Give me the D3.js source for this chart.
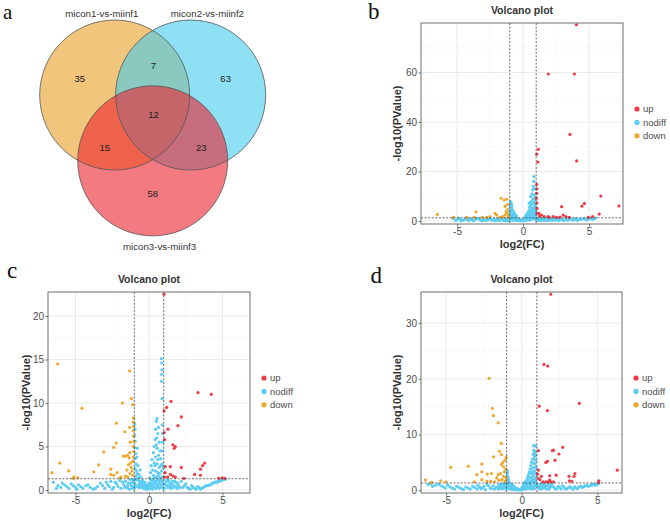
<!DOCTYPE html>
<html>
<head>
<meta charset="utf-8">
<script src="https://cdn.jsdelivr.net/npm/d3@7"></script>
<style>
    body { margin: 0; background: #fff; }
    text { font-family: "Liberation Sans", Arial, sans-serif; }
</style>
</head>
<body>
<script>
// ---------------------------------------------------------------------------
// Data
// ---------------------------------------------------------------------------

// Venn: set names and region counts
// order: A only, A&B, B only, A&B&C, A&C, B&C, C only
var vennSets = ["micon1-vs-miinf1", "micon2-vs-miinf2", "micon3-vs-miinf3"];
var vennCounts = [35, 7, 63, 12, 15, 23, 58];

var groups = ["up", "nodiff", "down"];

// panel b points [log2FC, -log10 P]
var bUp = [[4.05,79.3],[1.92,59.4],[3.9,59.4],[3.56,35],[1.16,29],[1.04,27],
    [1.13,23.8],[4.07,24.3],[1.04,14.8],[1.05,13],[1.04,11.2],[1.02,9.2],
    [1.05,7.3],[1.06,5.1],[1.06,3.1],[5.9,10.1],[7.27,6.1],[4.65,7.1],
    [4.47,6.0],[2.93,5.8],[5.78,2.8],[5.27,1.8],[4.95,1.5],[3.05,2.4],
    [3.25,1.8],[2.3,1.8],[2.55,1.5],[1.9,1.8],[1.4,2.4],[1.2,3.1],[1.6,1.8],
    [1.25,2.0],[2.0,1.5],[3.5,1.5],[2.8,1.6]];
var bDown = [[-6.49,2.7],[-5.28,1.5],[-3.56,3.7],[-3.69,1.5],[-2.12,3.1],
    [-2.0,2.4],[-1.67,9.2],[-1.44,8.5],[-1.24,8.8],[-1.18,6.6],[-1.36,5.9],
    [-1.18,3.1],[-1.36,2.4],[-1.54,1.8],[-1.75,1.5],[-2.75,1.5],[-2.5,1.8],
    [-3.1,1.5],[-4.27,1.5],[-1.18,4.6],[-1.28,3.7],[-1.1,2.0],[-1.12,1.5]];
var bNodiff = [[-5.3,1.0],[-5.0,0.6],[-4.8,0.9],[-4.6,0.4],[-4.4,0.8],
    [-4.2,0.5],[-4.0,1.0],[-3.8,0.3],[-3.6,0.7],[-3.4,1.1],[-3.2,0.4],
    [-3.0,0.8],[-2.8,0.2],[-2.6,0.6],[-2.5,1.1],[-2.3,0.3],[-2.2,0.8],
    [-2.0,0.5],[-1.9,1.0],[-1.8,0.2],[-1.7,0.7],[-1.6,1.2],[-1.5,0.4],
    [-1.4,0.9],[-1.3,0.1],[-1.25,0.6],[-1.2,1.1],
    [-5.1,0.2],[-4.9,1.2],[-4.7,0.1],[-4.5,0.5],[-4.3,1.1],[-4.1,0.2],
    [-3.9,0.7],[-3.7,0.2],[-3.5,1.0],[-3.3,0.6],[-3.1,0.1],[-2.9,0.5],
    [-2.7,0.9],[-2.4,0.6],[-2.1,0.1],[-1.95,0.6],[-1.75,0.3],[-1.55,0.8],
    [-1.45,0.2],[-1.35,0.5],[-1.15,0.2],[-1.15,0.9],
    [-1.1,0.4],[-1.08,1.5],[-1.05,2.5],[-1.0,3.5],[-0.98,5.0],[-0.97,6.5],
    [-0.95,7.8],[-0.9,7.2],[-0.92,4.3],[-0.9,2.0],[-0.88,0.8],[-0.85,5.8],
    [-0.82,3.0],[-0.8,1.5],[-0.78,4.5],[-0.75,0.3],[-0.72,2.4],[-0.7,3.6],
    [-0.68,1.0],[-0.65,1.9],[-0.6,2.8],[-0.6,0.5],[-0.55,1.4],[-0.5,2.1],
    [-0.48,0.8],[-0.45,1.3],[-0.4,0.3],[-0.35,0.9],[-0.3,0.5],[-0.25,0.2],
    [-0.2,0.6],[-0.15,0.1],[-0.1,0.4],
    [-1.0,0.2],[-0.95,1.1],[-0.9,3.0],[-0.87,6.5],[-0.93,6.0],[-0.8,2.3],
    [-0.75,1.2],[-0.7,0.6],[-0.62,1.3],[-0.58,2.0],[-0.52,0.3],
    [0.0,0.2],[0.05,0.6],[0.1,1.0],[0.12,0.3],[0.15,1.6],[0.2,0.7],
    [0.22,2.2],[0.25,1.2],[0.3,2.8],[0.3,0.4],[0.35,1.8],[0.38,3.5],
    [0.4,1.0],[0.42,2.5],[0.45,4.2],[0.47,7.2],[0.5,3.2],[0.5,5.5],
    [0.52,1.5],[0.55,6.3],[0.55,2.3],[0.58,9.9],[0.6,4.5],[0.6,0.6],
    [0.62,8.0],[0.65,3.0],[0.65,5.2],[0.68,11.0],[0.7,6.8],[0.7,1.8],
    [0.72,12.6],[0.74,9.0],[0.75,4.0],[0.78,14.0],[0.78,2.5],[0.8,7.5],
    [0.82,16.0],[0.83,17.9],[0.85,10.5],[0.85,5.5],[0.88,13.0],[0.88,3.2],
    [0.9,8.5],[0.9,1.2],[0.92,6.0],[0.95,2.0],[0.95,4.3],[0.97,0.5],
    [0.08,0.1],[0.18,0.4],[0.28,1.4],[0.33,0.8],[0.37,2.4],[0.43,1.6],
    [0.48,0.4],[0.58,3.6],[0.63,1.2],[0.68,2.4],[0.73,5.0],[0.76,0.9],
    [0.8,3.5],[0.83,1.5],[0.86,4.5],[0.9,2.6],[0.93,7.0],[0.95,9.5],
    [0.97,3.5],
    [1.1,0.8],[1.2,0.3],[1.3,1.1],[1.4,0.5],[1.5,0.9],[1.6,0.2],[1.7,0.7],
    [1.8,1.2],[1.9,0.4],[2.0,0.9],[2.2,0.3],[2.3,1.0],[2.5,0.6],[2.7,0.2],
    [2.8,1.0],[3.0,0.5],[3.2,0.9],[3.4,0.3],[3.6,0.8],[3.8,0.4],[4.0,1.0],
    [4.2,0.5],[4.5,0.8],[4.8,0.4],[5.0,1.0],[5.3,0.7],[5.5,1.2],
    [1.05,0.3],[1.15,1.2],[1.25,0.6],[1.35,0.2],[1.45,1.1],[1.55,0.6],
    [1.65,1.0],[1.75,0.3],[1.85,0.7],[1.95,0.2],[2.1,0.6],[2.4,0.3],
    [2.6,0.9],[2.9,0.6],[3.1,0.2],[3.3,0.6],[3.5,1.0],[3.7,0.6],[3.9,0.8],
    [4.1,0.3],[4.35,0.7],[4.65,1.0],[4.9,0.7],[5.15,0.9],[5.4,1.0]];

// panel c points
var cUp = [[1.02,22.5],[3.33,11.2],[4.24,11.0],[1.5,10.2],[1.2,9.5],
    [1.03,9.1],[2.2,8.4],[1.97,7.4],[1.29,7.0],[1.03,6.6],[1.06,5.8],
    [1.63,5.2],[1.79,5.0],[1.72,4.8],[3.79,3.1],[3.65,2.8],[3.5,2.4],
    [2.2,2.6],[1.45,2.7],[1.11,2.7],[3.1,1.8],[3.5,1.7],[1.45,1.8],
    [1.63,1.6],[1.79,1.5],[1.27,1.5],[2.37,1.35],[4.74,1.35],[4.97,1.4],
    [5.15,1.35],[1.1,2.0],[1.05,1.5]];
var cDown = [[-6.21,14.5],[-4.56,9.4],[-1.31,13.7],[-1.2,10.5],[-1.81,10.0],
    [-1.1,9.8],[-1.05,8.3],[-1.07,7.8],[-1.04,7.3],[-1.08,6.8],[-1.05,6.2],
    [-1.03,5.6],[-1.06,5.0],[-1.04,4.4],[-1.07,3.8],[-2.22,7.7],[-1.31,7.2],
    [-1.65,6.7],[-2.23,5.4],[-1.27,5.5],[-2.4,4.9],[-3.08,4.4],[-1.3,4.3],
    [-1.45,4.0],[-1.6,3.9],[-1.75,3.9],[-1.35,3.7],[-3.42,2.9],[-6.07,3.1],
    [-6.6,2.0],[-5.46,2.2],[-3.76,2.1],[-2.6,2.4],[-2.6,1.8],[-2.4,1.7],
    [-2.17,2.0],[-1.4,2.9],[-1.2,2.6],[-1.5,2.3],[-1.15,2.2],[-1.3,1.9],
    [-1.1,1.7],[-1.6,1.6],[-1.25,3.1],[-1.1,3.3],[-1.45,1.5],[-5.12,1.5],
    [-4.85,1.4],[-5.17,1.35],[-1.9,1.5],[-2.0,1.4]];
var cNodiff = [[-6.5,0.9],[-6.2,0.5],[-5.9,0.8],[-5.6,0.4],[-5.3,0.7],
    [-5.0,0.3],[-4.8,0.6],[-4.5,0.2],[-4.3,0.5],[-4.0,0.3],[-3.8,0.1],
    [-3.5,0.4],[-3.3,0.8],[-3.0,0.2],[-2.8,0.6],[-2.6,1.0],[-2.4,0.3],
    [-2.2,0.7],[-2.0,1.1],[-1.9,0.2],[-1.7,0.6],[-1.6,1.0],[-1.5,0.3],
    [-1.4,0.8],[-1.3,1.2],[-1.2,0.5],[-1.1,0.9],[-1.15,0.2],
    [-6.3,0.2],[-6.0,0.3],[-5.75,0.6],[-5.45,0.2],[-5.15,0.5],[-4.9,0.1],
    [-4.65,0.4],[-4.15,0.6],[-3.65,0.2],[-3.15,0.5],[-2.9,0.9],[-2.7,0.4],
    [-2.5,0.1],[-2.3,0.9],[-2.1,0.4],[-1.8,0.9],[-1.65,0.3],[-1.45,0.5],
    [-1.35,0.1],[-1.25,0.8],[-1.05,0.4],[-1.1,1.2],
    [-0.97,7.6],[-0.95,7.0],[-0.97,6.3],[-0.94,5.6],[-0.96,4.9],[-0.9,4.2],
    [-0.93,3.6],[-0.88,3.0],[-0.95,2.5],[-0.85,2.2],[-0.8,4.8],[-0.82,3.8],
    [-0.75,2.8],[-0.7,1.8],[-0.9,1.6],[-0.78,1.2],[-0.65,1.0],[-0.6,2.3],
    [-0.55,1.5],[-0.5,0.7],[-0.45,1.1],[-0.4,0.4],[-0.35,0.8],[-0.3,0.2],
    [-0.25,0.5],[-0.2,0.1],[-0.15,0.4],[-0.1,0.2],[-0.95,0.8],[-0.85,0.4],
    [-0.7,0.6],[-0.98,1.2],[-0.6,0.3],
    [-0.98,0.2],[-0.92,0.5],[-0.88,1.2],[-0.8,1.9],[-0.72,1.4],[-0.68,0.3],
    [-0.62,0.8],[-0.55,0.4],[-0.48,0.9],[-0.42,0.6],[-0.38,0.2],[-0.32,0.5],
    [-0.28,0.9],[-0.22,0.3],[-0.12,0.6],[-0.02,0.1],
    [0.84,15.1],[0.86,14.6],[0.88,13.8],[0.85,13.3],[0.84,12.5],[0.88,10.5],
    [0.9,7.5],[0.92,6.5],[0.93,5.5],[0.54,8.2],[0.5,7.9],[0.45,7.0],
    [0.6,6.5],[0.52,6.0],[0.42,5.8],[0.7,5.5],[0.35,5.0],[0.55,4.8],
    [0.9,4.5],[0.3,4.3],[0.65,4.0],[0.45,3.8],[0.2,3.5],[0.8,3.6],[0.9,3.0],
    [0.35,3.1],[0.55,3.0],[0.15,2.8],[0.7,2.6],[0.25,2.3],[0.45,2.2],
    [0.6,2.0],[0.85,2.2],[0.1,2.0],[0.3,1.7],[0.5,1.5],[0.75,1.5],[0.05,1.4],
    [0.2,1.1],[0.4,1.0],[0.65,1.1],[0.9,1.0],[0.0,0.8],[0.15,0.5],[0.35,0.4],
    [0.55,0.6],[0.8,0.4],[-0.05,0.3],[0.25,0.1],[0.7,0.2],[0.95,0.7],
    [0.6,1.2],[0.3,0.7],
    [0.02,0.5],[0.08,0.8],[0.12,1.2],[0.18,0.2],[0.22,0.7],[0.28,1.2],
    [0.32,0.3],[0.38,1.4],[0.42,0.7],[0.48,0.2],[0.52,1.0],[0.58,0.4],
    [0.62,1.6],[0.68,0.7],[0.72,1.9],[0.78,0.9],[0.82,1.2],[0.88,0.6],
    [0.92,1.5],[0.96,0.2],[0.98,2.6],[0.4,2.8],[0.62,3.5],[0.75,4.5],
    [0.5,5.2],[0.65,7.2],[0.8,2.8],
    [1.1,0.6],[1.2,1.1],[1.3,0.3],[1.4,0.8],[1.5,0.2],[1.6,1.0],[1.7,0.5],
    [1.8,0.9],[1.9,0.2],[2.0,0.6],[2.2,1.0],[2.3,0.3],[2.5,0.7],[2.7,0.2],
    [2.9,0.5],[3.1,0.2],[3.3,0.4],[3.5,0.1],[3.7,0.3],[3.9,0.5],[4.1,0.6],
    [4.3,0.8],[4.5,0.9],[4.7,1.0],[4.9,1.1],[5.1,1.2],[5.2,1.25],
    [1.05,0.2],[1.15,0.9],[1.25,0.5],[1.35,1.1],[1.45,0.5],[1.55,0.7],
    [1.65,0.3],[1.75,1.0],[1.85,0.4],[1.95,0.8],[2.1,0.3],[2.4,0.5],
    [2.6,0.3],[2.8,0.1],[3.0,0.3],[3.2,0.1],[3.4,0.3],[3.6,0.2],[3.8,0.4],
    [4.0,0.5],[4.2,0.6],[4.4,0.8],[4.6,0.9],[4.8,1.0],[5.0,1.15]];

// panel d points
var dUp = [[1.92,35.2],[1.47,22.6],[1.72,22.3],[3.81,15.6],[1.16,15.1],
    [1.7,14.3],[2.71,7.7],[2.1,7.2],[2.03,7.1],[1.1,7.1],[2.46,6.5],
    [2.2,5.4],[1.7,5.2],[1.6,5.0],[6.32,3.6],[1.1,3.6],[1.04,2.9],[3.52,3.0],
    [3.13,2.5],[3.46,2.5],[2.28,2.7],[1.85,2.6],[1.3,2.5],[3.15,1.7],
    [3.3,1.6],[5.1,1.7],[5.07,1.4],[1.2,1.9],[1.4,1.5],[1.6,1.5],[1.75,1.5],
    [1.9,1.5],[2.1,1.5],[1.85,1.8],[1.1,2.1]];
var dDown = [[-2.16,20.1],[-1.94,14.7],[-1.87,13.4],[-1.56,12.1],[-1.35,8.4],
    [-1.48,7.0],[-1.87,6.0],[-1.34,6.4],[-1.03,5.9],[-1.1,5.4],[-1.25,5.0],
    [-1.35,4.6],[-1.2,4.2],[-1.05,3.8],[-1.15,3.3],[-1.4,3.0],[-1.55,2.8],
    [-1.2,2.5],[-1.05,2.2],[-1.3,1.9],[-1.1,1.6],[-1.5,1.8],[-1.65,2.2],
    [-2.64,4.7],[-3.53,4.3],[-4.69,4.1],[-2.64,3.3],[-2.97,2.8],[-2.28,2.9],
    [-2.0,3.0],[-2.64,1.9],[-2.3,1.6],[-2.05,1.6],[-6.37,1.85],[-5.95,1.4],
    [-5.35,1.7],[-5.02,1.5],[-3.13,1.5],[-1.8,1.5]];
var dNodiff = [[-6.2,1.0],[-5.9,0.7],[-5.5,1.1],[-5.2,0.6],[-4.9,0.9],
    [-4.6,0.4],[-4.3,0.7],[-4.0,0.3],[-3.7,0.6],[-3.4,0.2],[-3.1,0.5],
    [-2.9,0.9],[-2.7,0.3],[-2.5,0.7],[-2.3,1.1],[-2.1,0.4],[-1.9,0.8],
    [-1.8,0.2],[-1.6,0.6],[-1.5,1.0],[-1.4,0.3],[-1.3,0.7],[-1.2,1.2],
    [-1.1,0.5],[-1.15,0.9],
    [-6.0,1.2],[-5.7,0.9],[-5.35,0.8],[-5.05,0.4],[-4.75,0.6],[-4.45,0.2],
    [-4.15,0.5],[-3.85,0.1],[-3.55,0.4],[-3.25,0.7],[-2.95,0.2],[-2.8,0.6],
    [-2.6,0.4],[-2.4,0.1],[-2.2,0.8],[-2.0,0.3],[-1.7,0.5],[-1.55,0.2],
    [-1.45,0.7],[-1.35,1.0],[-1.25,0.3],[-1.05,0.8],[-1.05,0.2],
    [-0.98,3.6],[-0.95,3.2],[-0.97,2.8],[-0.92,2.4],[-0.96,2.0],[-0.88,1.8],
    [-0.93,1.5],[-0.85,1.3],[-0.9,1.0],[-0.8,0.9],[-0.95,0.6],[-0.75,0.5],
    [-0.7,0.8],[-0.85,0.3],[-0.65,0.3],[-0.6,0.6],[-0.55,0.2],[-0.5,0.4],
    [-0.45,0.1],[-0.4,0.3],[-0.3,0.1],[-0.2,0.2],[-0.1,0.05],
    [-0.98,0.4],[-0.97,1.2],[-0.92,0.8],[-0.9,2.2],[-0.82,1.5],[-0.78,1.1],
    [-0.72,0.2],[-0.62,1.0],[-0.58,0.1],[-0.52,0.7],[-0.35,0.4],[-0.25,0.05],
    [0.78,8.0],[0.85,8.0],[0.92,7.9],[0.8,7.2],[0.9,6.8],[0.75,6.4],
    [0.85,6.0],[0.7,5.6],[0.92,5.4],[0.65,5.0],[0.8,4.8],[0.6,4.4],[0.9,4.2],
    [0.72,4.0],[0.55,3.8],[0.85,3.5],[0.5,3.3],[0.65,3.1],[0.95,3.0],
    [0.45,2.8],[0.75,2.6],[0.4,2.4],[0.58,2.2],[0.88,2.1],[0.35,2.0],
    [0.68,1.8],[0.3,1.6],[0.5,1.5],[0.8,1.4],[0.25,1.2],[0.42,1.1],[0.62,1.0],
    [0.92,0.9],[0.2,0.8],[0.35,0.6],[0.55,0.5],[0.75,0.7],[0.15,0.4],
    [0.28,0.2],[0.45,0.3],[0.65,0.2],[0.85,0.3],[0.1,0.1],[0.05,0.3],
    [0.0,0.1],
    [0.02,0.5],[0.08,0.7],[0.12,1.0],[0.18,1.4],[0.22,0.3],[0.32,1.0],
    [0.38,1.8],[0.4,0.6],[0.48,2.2],[0.52,1.2],[0.58,0.8],[0.6,3.0],
    [0.62,1.6],[0.7,2.4],[0.7,0.4],[0.72,3.4],[0.78,1.9],[0.8,5.5],
    [0.82,3.0],[0.85,0.8],[0.88,4.8],[0.9,1.6],[0.92,6.2],[0.95,2.4],
    [0.95,4.0],[0.97,1.2],[0.88,7.0],[0.83,6.7],
    [1.1,0.5],[1.2,1.0],[1.3,0.2],[1.4,0.7],[1.5,1.1],[1.6,0.4],[1.7,0.8],
    [1.8,0.2],[1.9,0.6],[2.0,1.0],[2.2,0.3],[2.4,0.7],[2.6,0.2],[2.8,0.5],
    [3.0,0.3],[3.2,0.6],[3.4,0.2],[3.6,0.4],[3.8,0.6],[4.0,0.5],[4.2,0.8],
    [4.4,0.7],[4.6,0.9],[4.8,1.0],[5.0,1.1],[5.1,1.2],
    [1.05,0.9],[1.15,0.3],[1.25,0.7],[1.35,1.2],[1.45,0.4],[1.55,0.8],
    [1.65,0.2],[1.75,1.1],[1.85,0.5],[1.95,0.9],[2.1,0.6],[2.3,0.2],
    [2.5,0.5],[2.7,0.8],[2.9,0.2],[3.1,0.5],[3.3,0.4],[3.5,0.6],[3.7,0.3],
    [3.9,0.7],[4.1,0.6],[4.3,0.9],[4.5,0.8],[4.7,1.1],[4.9,0.9]];

// tick labels
var volcanoXTicks = [-5, 0, 5];
var bYTicks = [0, 20, 40, 60];
var cYTicks = [0, 5, 10, 15, 20];
var dYTicks = [0, 10, 20, 30];

// ---------------------------------------------------------------------------
// Canvas
// ---------------------------------------------------------------------------
var width = 670,
    height = 521;

var svg = d3.select("body").append("svg")
    .attr("width", width)
    .attr("height", height);

var colour = d3.scaleOrdinal()
    .domain(groups)
    .range(["#EE3B45", "#5CCDF2", "#EFA72F"]);

var textGrey = "#4D4D4D";

// ---------------------------------------------------------------------------
// Panel a: Venn diagram
// ---------------------------------------------------------------------------
// unit layout: three circles on an equilateral triangle
var venn = {cx: 152.7, cy: 117, k: 76, r: 75};
var vx = d3.scaleLinear().domain([0, 1]).range([venn.cx, venn.cx + venn.k]);
var vy = d3.scaleLinear().domain([0, 1]).range([venn.cy, venn.cy + venn.k]);

var circleUnits = [[-0.5, -0.289], [0.5, -0.289], [0, 0.577]];
var circleFills = ["rgb(233,158,37)", "rgb(67,203,238)", "rgb(237,33,47)"];
var regionUnits = [[-0.96, -0.5], [0.01, -0.67], [0.96, -0.5], [0.01, -0.03],
    [-0.63, 0.4], [0.64, 0.4], [0, 1.01]];
var setLabelUnits = [[-0.67, -1.36], [0.72, -1.36], [0.09, 1.71]];

var gv = svg.append("g");

gv.selectAll("circle")
    .data(circleUnits)
    .enter()
    .append("circle")
    .attr("cx", function(d) { return vx(d[0]); })
    .attr("cy", function(d) { return vy(d[1]); })
    .attr("r", venn.r)
    .attr("fill", function(d, i) { return circleFills[i]; })
    .attr("fill-opacity", 0.6);

// outlines drawn on top so every edge shows
gv.selectAll(".outline")
    .data(circleUnits)
    .enter()
    .append("circle")
    .attr("class", "outline")
    .attr("cx", function(d) { return vx(d[0]); })
    .attr("cy", function(d) { return vy(d[1]); })
    .attr("r", venn.r)
    .attr("fill", "none")
    .attr("stroke", "#555")
    .attr("stroke-width", 0.8);

gv.selectAll(".count")
    .data(vennCounts)
    .enter()
    .append("text")
    .attr("class", "count")
    .attr("x", function(d, i) { return vx(regionUnits[i][0]); })
    .attr("y", function(d, i) { return vy(regionUnits[i][1]); })
    .attr("dy", "0.35em")
    .attr("text-anchor", "middle")
    .attr("font-size", "9.5px")
    .attr("fill", "#222")
    .text(function(d) { return d; });

gv.selectAll(".setname")
    .data(vennSets)
    .enter()
    .append("text")
    .attr("class", "setname")
    .attr("x", function(d, i) { return vx(setLabelUnits[i][0]); })
    .attr("y", function(d, i) { return vy(setLabelUnits[i][1]); })
    .attr("dy", "0.35em")
    .attr("text-anchor", "middle")
    .attr("font-size", "9.7px")
    .attr("fill", "#333")
    .text(function(d) { return d; });

// ---------------------------------------------------------------------------
// Volcano panels
// ---------------------------------------------------------------------------
function gridLines(g, values, x1, x2, y1, y2, col, w) {
    return g.append("g").selectAll("line")
        .data(values)
        .enter()
        .append("line")
        .attr("x1", x1).attr("x2", x2)
        .attr("y1", y1).attr("y2", y2)
        .attr("stroke", col)
        .attr("stroke-width", w);
}

function drawVolcano(p) {
    var x = d3.scaleLinear().domain(p.xDomain).range([p.left, p.right]);
    var y = d3.scaleLinear().domain(p.yDomain).range([p.bottom, p.top]);
    var g = svg.append("g");
    var fx = function(d) { return x(d); },
        fy = function(d) { return y(d); };

    // minor then major grid
    var minorX = [-7.5, -2.5, 2.5, 7.5].filter(function(v) {
        return v > p.xDomain[0] && v < p.xDomain[1];
    });
    var minorY = p.yTicks.slice(0, -1).map(function(v, i) {
        return (v + p.yTicks[i + 1]) / 2;
    });
    var step = p.yTicks[1] - p.yTicks[0];
    var topMinor = p.yTicks[p.yTicks.length - 1] + step / 2;
    if (topMinor < p.yDomain[1]) minorY.push(topMinor);

    gridLines(g, minorX, fx, fx, p.top, p.bottom, "#F2F2F2", 0.5);
    gridLines(g, minorY, p.left, p.right, fy, fy, "#F2F2F2", 0.5);
    gridLines(g, volcanoXTicks, fx, fx, p.top, p.bottom, "#E6E6E6", 0.8);
    gridLines(g, p.yTicks, p.left, p.right, fy, fy, "#E6E6E6", 0.8);

    // points, nodiff underneath
    var layers = [["nodiff", p.nodiff], ["down", p.down], ["up", p.up]];
    layers.forEach(function(layer) {
        g.append("g").selectAll("circle")
            .data(layer[1])
            .enter()
            .append("circle")
            .attr("cx", function(d) { return x(d[0]); })
            .attr("cy", function(d) { return y(d[1]); })
            .attr("r", 1.6)
            .attr("fill", colour(layer[0]));
    });

    // thresholds |log2FC| = 1 and p = 0.05
    gridLines(g, [-1, 1], fx, fx, p.top, p.bottom, "#444", 0.8)
        .attr("stroke-dasharray", "2,1.6");
    gridLines(g, [-Math.log10(0.05)], p.left, p.right, fy, fy, "#444", 0.8)
        .attr("stroke-dasharray", "2,1.6");

    // panel border
    g.append("rect")
        .attr("x", p.left).attr("y", p.top)
        .attr("width", p.right - p.left)
        .attr("height", p.bottom - p.top)
        .attr("fill", "none")
        .attr("stroke", "#6E6E6E")
        .attr("stroke-width", 1);

    // axes
    var xAxis = d3.axisBottom(x).tickValues(volcanoXTicks)
        .tickSize(2.5).tickPadding(1.5)
        .tickFormat(function(d) { return d < 0 ? "-" + (-d) : d; });
    var yAxis = d3.axisLeft(y).tickValues(p.yTicks)
        .tickSize(2.5).tickPadding(1.5).tickFormat(d3.format("d"));

    var ax = g.append("g")
        .attr("transform", "translate(0," + p.bottom + ")")
        .call(xAxis);
    var ay = g.append("g")
        .attr("transform", "translate(" + p.left + ",0)")
        .call(yAxis);
    [ax, ay].forEach(function(a) {
        a.select(".domain").remove();
        a.selectAll("line").attr("stroke", "#444").attr("stroke-width", 0.7);
        a.selectAll("text")
            .attr("fill", textGrey)
            .style("font-size", "10px")
            .style("font-family", "'Liberation Sans', Arial, sans-serif");
    });

    var midX = (p.left + p.right) / 2,
        midY = (p.top + p.bottom) / 2;

    // title
    g.append("text")
        .attr("x", midX).attr("y", p.top - 9.5)
        .attr("text-anchor", "middle")
        .attr("font-size", "10.5px")
        .attr("font-weight", "bold")
        .attr("fill", "#333")
        .text("Volcano plot");

    // axis titles
    g.append("text")
        .attr("x", midX).attr("y", p.bottom + 24)
        .attr("text-anchor", "middle")
        .attr("font-size", "11px")
        .attr("font-weight", "bold")
        .attr("fill", "#333")
        .text("log2(FC)");

    g.append("text")
        .attr("transform", "translate(" + (p.left - p.yTitleGap) + "," + midY +
            ") rotate(-90)")
        .attr("dy", "0.35em")
        .attr("text-anchor", "middle")
        .attr("font-size", "11px")
        .attr("font-weight", "bold")
        .attr("fill", "#333")
        .text("-log10(PValue)");

    // legend
    var leg = g.append("g")
        .attr("transform", "translate(" + (p.right + 14) + "," + (midY - 14.5) + ")");
    var item = leg.selectAll("g")
        .data(groups)
        .enter()
        .append("g")
        .attr("transform", function(d, i) { return "translate(0," + i * 13.4 + ")"; });
    item.append("circle")
        .attr("r", 2.6)
        .attr("fill", function(d) { return colour(d); });
    item.append("text")
        .attr("x", 6)
        .attr("dy", "0.35em")
        .attr("font-size", "9.5px")
        .attr("fill", textGrey)
        .text(function(d) { return d; });
}

drawVolcano({left: 421, right: 623, top: 23, bottom: 224,
    xDomain: [-7.73, 7.58], yDomain: [-1.2, 80], yTicks: bYTicks,
    yTitleGap: 23.5, up: bUp, down: bDown, nodiff: bNodiff});
drawVolcano({left: 48, right: 250, top: 292, bottom: 493,
    xDomain: [-6.87, 6.87], yDomain: [-0.34, 22.76], yTicks: cYTicks,
    yTitleGap: 21.5, up: cUp, down: cDown, nodiff: cNodiff});
drawVolcano({left: 421, right: 622, top: 292, bottom: 493,
    xDomain: [-6.66, 6.63], yDomain: [-0.5, 35.6], yTicks: dYTicks,
    yTitleGap: 23.5, up: dUp, down: dDown, nodiff: dNodiff});

// ---------------------------------------------------------------------------
// Panel letters
// ---------------------------------------------------------------------------
var letters = ["a", "b", "c", "d"];
var letterPos = [[3, 19], [368, 18.5], [7, 278], [370.5, 283]];

svg.selectAll(".letter")
    .data(letters)
    .enter()
    .append("text")
    .attr("class", "letter")
    .attr("x", function(d, i) { return letterPos[i][0]; })
    .attr("y", function(d, i) { return letterPos[i][1]; })
    .style("font-family", "'Liberation Serif', 'Times New Roman', serif")
    .attr("font-size", function(d, i) { return i === 0 ? "21px" : "23px"; })
    .attr("fill", "#111")
    .text(function(d) { return d; });
</script>
</body>
</html>
